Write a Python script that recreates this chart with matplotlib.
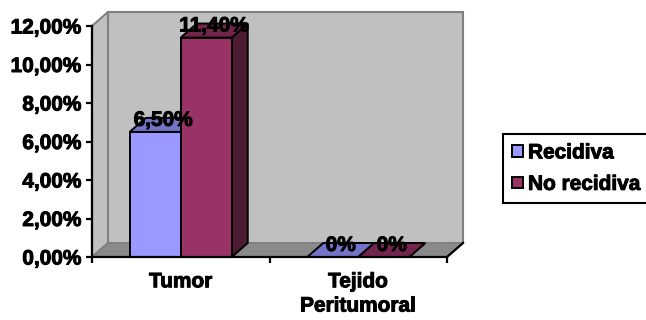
import matplotlib
matplotlib.use("Agg")
import matplotlib.pyplot as plt
import matplotlib.patheffects as pe
from matplotlib.patches import Polygon, Rectangle, Patch

plt.rcParams['font.family'] = ['Liberation Sans', 'DejaVu Sans']
plt.rcParams['font.weight'] = 'bold'

# data
categories = ['Tumor', 'Tejido\nPeritumoral']
series = ['Recidiva', 'No recidiva']
recidiva = [6.5, 0.0]
no_recidiva = [11.4, 0.0]
recidiva_labels = ['6,50%', '0%']
no_recidiva_labels = ['11,40%', '0%']
y_ticks = [0, 2, 4, 6, 8, 10, 12]
y_tick_labels = ['0,00%', '2,00%', '4,00%', '6,00%', '8,00%', '10,00%', '12,00%']

# colours: front, top, side
colors = {
    'Recidiva': ('#9999ff', '#7373c8', '#4d4d80'),
    'No recidiva': ('#993366', '#73264d', '#4c1a33'),
}
FS = 15
thick = [pe.withStroke(linewidth=0.7, foreground='black')]

W, H = 646, 320
fig = plt.figure(figsize=(W / 100, H / 100), dpi=100)
# front plane of the 3d box
ax_l, ax_r, ax_t, ax_b = 92, 447, 26, 257
ax = fig.add_axes([ax_l / W, (H - ax_b) / H, (ax_r - ax_l) / W, (ax_b - ax_t) / H])
ax.set_xlim(0, len(categories))
ax.set_ylim(0, 12)
ax.patch.set_visible(False)

# depth offset in data units (16px right, 14px up)
DX = 16 / (ax_r - ax_l) * len(categories)
DY = 14 / (ax_b - ax_t) * 12
top = 12

wall_edge = '#808080'
# back wall
ax.add_patch(Polygon([(DX, DY), (2 + DX, DY), (2 + DX, top + DY), (DX, top + DY)],
                     closed=True, facecolor='#c0c0c0', edgecolor=wall_edge, lw=1.5,
                     clip_on=False, zorder=0))
# left wall
ax.add_patch(Polygon([(0, 0), (DX, DY), (DX, top + DY), (0, top)],
                     closed=True, facecolor='#c0c0c0', edgecolor=wall_edge, lw=1.5,
                     clip_on=False, zorder=0))
# floor
ax.add_patch(Polygon([(0, 0), (2, 0), (2 + DX, DY), (DX, DY)],
                     closed=True, facecolor='#8a8a8a', edgecolor=wall_edge, lw=1.2,
                     clip_on=False, zorder=0.5))

# bars
bar_w = 51 / (ax_r - ax_l) * len(categories)
values = [recidiva, no_recidiva]
labels = [recidiva_labels, no_recidiva_labels]
for j, name in enumerate(series):
    front, topc, side = colors[name]
    for i, v in enumerate(values[j]):
        x0 = i + 0.5 - bar_w + j * bar_w
        ax.add_patch(Polygon([(x0 + bar_w, 0), (x0 + bar_w + DX, DY),
                              (x0 + bar_w + DX, v + DY), (x0 + bar_w, v)],
                             closed=True, facecolor=side, edgecolor='black', lw=1.4,
                             clip_on=False, zorder=2))
        ax.add_patch(Polygon([(x0, v), (x0 + bar_w, v), (x0 + bar_w + DX, v + DY), (x0 + DX, v + DY)],
                             closed=True, facecolor=topc, edgecolor='black', lw=1.4,
                             clip_on=False, zorder=2))
        if v > 0:
            ax.add_patch(Rectangle((x0, 0), bar_w, v, facecolor=front, edgecolor='black',
                                   lw=1.4, clip_on=False, zorder=2))
        ax.text(x0 + bar_w / 2 + DX / 2, v + DY / 2 - 0.05, labels[j][i], ha='center',
                va='baseline', fontsize=FS, fontweight='bold', zorder=5, path_effects=thick)

# axis lines
ax.plot([0, 0], [0, top], color='black', lw=1.6, clip_on=False, zorder=3)
ax.plot([0, 2], [0, 0], color='black', lw=1.6, clip_on=False, zorder=3)
ax.plot([2, 2 + DX], [0, DY], color='black', lw=1.6, clip_on=False, zorder=3)
for s in ax.spines.values():
    s.set_visible(False)

ax.set_yticks(y_ticks)
ax.set_yticklabels(y_tick_labels, path_effects=thick)
ax.tick_params(axis='y', length=4.5, width=1.6, pad=3, labelsize=FS)
ax.set_xticks([0, 1, 2])
ax.set_xticklabels(['', '', ''])
ax.tick_params(axis='x', which='major', length=4.5, width=1.6)
ax.set_xticks([0.5, 1.5], minor=True)
ax.set_xticklabels(categories, minor=True, fontsize=FS, fontweight='bold', linespacing=1.35,
                   path_effects=thick)
ax.tick_params(axis='x', which='minor', length=0, pad=11)

handles = [Patch(facecolor=colors[s][0], edgecolor='black', lw=1.4) for s in series]
leg = fig.legend(handles, series, loc='upper left', bbox_to_anchor=(503 / W, (H - 134) / H),
                 prop={'weight': 'bold', 'size': FS}, handlelength=0.5,
                 handleheight=0.5, handletextpad=0.25, labelspacing=0.6, borderpad=0.45,
                 borderaxespad=0, fancybox=False, framealpha=1)
leg.get_frame().set_edgecolor('black')
leg.get_frame().set_linewidth(1.5)
for t in leg.get_texts():
    t.set_path_effects(thick)

fig.savefig('out.png', dpi=100)
